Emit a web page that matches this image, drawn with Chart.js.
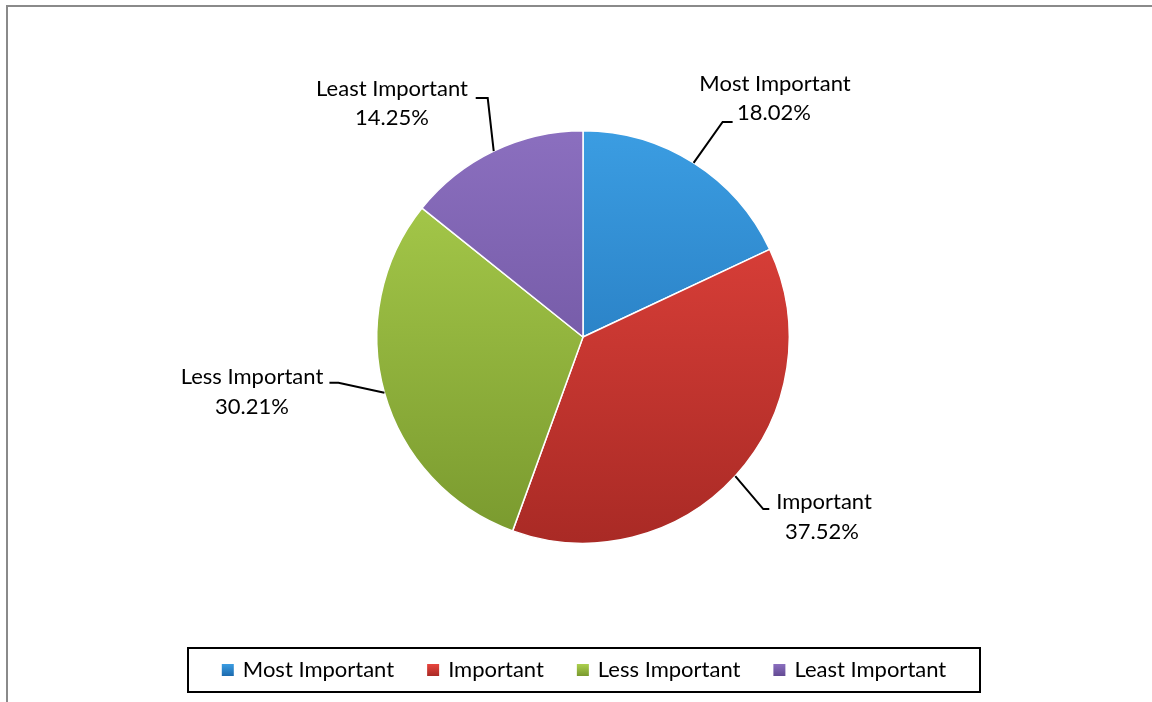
<!DOCTYPE html>
<html><head><meta charset="utf-8">
<script src="https://cdn.jsdelivr.net/npm/chart.js@4.4.1/dist/chart.umd.min.js"></script>
<style>html,body{margin:0;padding:0;background:#fff}#wrap{width:1152px;height:702px;position:relative}</style>
</head><body><div id="wrap"><canvas id="c" width="1152" height="702"></canvas></div>
<script>
const categories = ['Most Important', 'Important', 'Less Important', 'Least Important'];
const values = [18.02, 37.52, 30.21, 14.25];
const valueLabels = ['18.02%', '37.52%', '30.21%', '14.25%'];
const topColors = ['#3b9de2', '#e8453e', '#acd04e', '#8b6fbf'];
const bottomColors = ['#1c6aae', '#a92a25', '#79992e', '#634a93'];

const FONT = '22px Lato, "Open Sans", sans-serif';

// label layout: elbow (relative to arc anchor), text positions
const labelLayout = [
  {elbow: [29, -41], endDx: 10, name: [775, 84], pct: [774, 113]},
  {elbow: [28, 33], endDx: 6, name: [824, 502], pct: [822, 532]},
  {elbow: [-46, -10], endDx: -9, name: [252, 377], pct: [252, 407]},
  {elbow: [-6, -53], endDx: -12, name: [392, 89], pct: [392, 118]}
];

const decorPlugin = {
  id: 'decor',
  beforeDraw(chart) {
    const ctx = chart.ctx;
    ctx.save();
    ctx.fillStyle = '#fff';
    ctx.fillRect(0, 0, chart.width, chart.height);
    ctx.fillStyle = '#8a8a8a';
    ctx.fillRect(6, 5, chart.width - 6, 2);
    ctx.fillRect(6, 5, 2, chart.height - 5);
    ctx.restore();
  },
  afterDraw(chart) {
    const ctx = chart.ctx;
    const meta = chart.getDatasetMeta(0);
    ctx.save();
    ctx.font = FONT;
    ctx.fillStyle = '#000';
    ctx.strokeStyle = '#000';
    ctx.lineWidth = 2;
    meta.data.forEach((arc, i) => {
      const p = arc.getProps(['x','y','startAngle','endAngle','outerRadius'], true);
      const mid = (p.startAngle + p.endAngle) / 2;
      const ax = p.x + Math.cos(mid) * p.outerRadius;
      const ay = p.y + Math.sin(mid) * p.outerRadius;
      const L = labelLayout[i];
      const ex = ax + L.elbow[0], ey = ay + L.elbow[1];
      ctx.beginPath();
      ctx.moveTo(ax, ay);
      ctx.lineTo(ex, ey);
      ctx.lineTo(ex + L.endDx, ey);
      ctx.stroke();
      ctx.textAlign = 'center';
      ctx.textBaseline = 'middle';
      ctx.fillText(categories[i], L.name[0], L.name[1]);
      ctx.fillText(valueLabels[i], L.pct[0], L.pct[1]);
    });
    // legend
    const box = {x: 188, y: 648, w: 792, h: 44};
    ctx.lineWidth = 2;
    ctx.strokeRect(box.x, box.y, box.w, box.h);
    const sq = 12, gapMT = 9, gapItem = 33;
    const widths = categories.map(c => sq + gapMT + ctx.measureText(c).width);
    const total = widths.reduce((a, b) => a + b, 0) + gapItem * (categories.length - 1);
    let x = box.x + box.w / 2 - total / 2;
    const cy = box.y + box.h / 2;
    categories.forEach((c, i) => {
      const g = ctx.createLinearGradient(0, cy - 6, 0, cy + 6);
      g.addColorStop(0, topColors[i]);
      g.addColorStop(1, bottomColors[i]);
      ctx.fillStyle = g;
      ctx.fillRect(x, cy - 6, sq, sq);
      ctx.fillStyle = '#000';
      ctx.textAlign = 'left';
      ctx.textBaseline = 'middle';
      ctx.fillText(c, x + sq + gapMT, cy);
      x += widths[i] + gapItem;
    });
    ctx.restore();
  }
};

new Chart(document.getElementById('c'), {
  type: 'pie',
  data: {
    labels: categories,
    datasets: [{
      data: values,
      backgroundColor(context) {
        const chart = context.chart;
        const ca = chart.chartArea;
        if (!ca) return topColors[context.dataIndex];
        const g = chart.ctx.createLinearGradient(0, ca.top, 0, ca.bottom);
        g.addColorStop(0, topColors[context.dataIndex]);
        g.addColorStop(1, bottomColors[context.dataIndex]);
        return g;
      },
      borderColor: '#ffffff',
      borderWidth: 1.5
    }]
  },
  options: {
    responsive: false,
    animation: false,
    layout: {padding: {top: 130, bottom: 158, left: 376, right: 362}},
    plugins: {legend: {display: false}, tooltip: {enabled: false}}
  },
  plugins: [decorPlugin]
});
</script></body></html>
